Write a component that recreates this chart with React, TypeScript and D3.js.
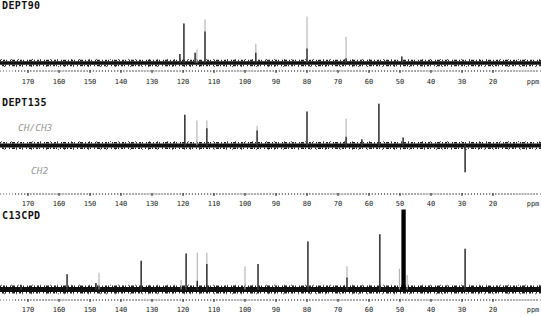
import React from "react";
import * as d3 from "d3";

// ---- data (ppm, intensity, solid core intensity) ----
const tickValues = [170, 160, 150, 140, 130, 120, 110, 100, 90, 80, 70, 60, 50, 40, 30, 20];

const dept90Ppm = [121.0, 119.7, 116.1, 115.5, 112.9, 96.5, 80.0, 67.4, 49.4];
const dept90Int = [19, 84, 22, 29, 93, 41, 99, 56, 14];
const dept90Core = [19, 84, 22, 0, 67, 22, 31, 10, 14];

const dept135Ppm = [119.4, 115.5, 112.3, 96.1, 80.0, 67.4, 62.3, 56.8, 49.0, 29.0];
const dept135Int = [70, 57, 57, 45, 77, 61, 14, 95, 18, -61];
const dept135Core = [70, 0, 39, 34, 77, 20, 14, 95, 18, -61];

const cpdPpm = [172.3, 157.4, 148.1, 147.1, 133.5, 120.6, 119.0, 115.4, 112.3, 100.0, 95.8, 79.7, 67.1, 56.5, 50.2, 47.7, 29.0];
const cpdInt = [6, 19, 8, 21, 36, 12, 45, 46, 46, 29, 32, 60, 29, 69, 26, 18, 51];
const cpdCore = [6, 19, 8, 0, 36, 0, 45, 11, 32, 0, 32, 60, 15, 69, 0, 0, 51];

const solventPpm = [49.55, 48.15];
const solventInt = 100;

const W = 541;
const H = 316;

const x = d3.scaleLinear().domain([100, 50]).range([245, 400]);

type Panel = {
  title: string;
  titleY: number;
  base: number;
  scalePx: number;
  band: number;
  axisY: number;
  labelY: number;
  ppm: number[];
  inten: number[];
  core: number[];
};

const panels: Panel[] = [
  { title: "DEPT90", titleY: 9, base: 63, scalePx: 47, band: 3.5, axisY: 71, labelY: 83.5, ppm: dept90Ppm, inten: dept90Int, core: dept90Core },
  { title: "DEPT135", titleY: 106, base: 145.5, scalePx: 44, band: 4, axisY: 194, labelY: 206, ppm: dept135Ppm, inten: dept135Int, core: dept135Core },
  { title: "C13CPD", titleY: 219, base: 289.5, scalePx: 80, band: 5, axisY: 300, labelY: 311.5, ppm: cpdPpm, inten: cpdInt, core: cpdCore },
];

const mono = "'DejaVu Sans Mono', 'Liberation Mono', monospace";

function Baseline({ y, t }: { y: number; t: number }) {
  return (
    <g>
      <line x1={0} x2={W} y1={y} y2={y} stroke="#111" strokeWidth={t} />
      <line x1={0} x2={W} y1={y - t / 2 - 0.7} y2={y - t / 2 - 0.7} stroke="#222" strokeWidth={1.4} strokeDasharray="1 2 2 1 1 3 1 1 3 2" />
      <line x1={2} x2={W} y1={y + t / 2 + 0.7} y2={y + t / 2 + 0.7} stroke="#222" strokeWidth={1.4} strokeDasharray="2 1 1 3 1 2 3 1 1 2" />
      <line x1={1} x2={W} y1={y - t / 2 - 1.8} y2={y - t / 2 - 1.8} stroke="#555" strokeWidth={1} strokeDasharray="1 9 1 6 1 13 1 7" />
      <line x1={4} x2={W} y1={y + t / 2 + 1.8} y2={y + t / 2 + 1.8} stroke="#555" strokeWidth={1} strokeDasharray="1 11 1 5 1 8 1 14" />
    </g>
  );
}

function Axis({ y, labelY, lastLabel }: { y: number; labelY: number; lastLabel: string }) {
  const minors = d3.range(174, 5, -1);
  return (
    <g>
      <line x1={0} x2={W} y1={y} y2={y} stroke="#666" strokeWidth={1} strokeDasharray="1 2" />
      {minors.map((v) => (
        <line key={v} x1={x(v)} x2={x(v)} y1={y - 0.5} y2={y + 0.5} stroke="#444" strokeWidth={1} />
      ))}
      {tickValues.map((v) => (
        <line key={"t" + v} x1={x(v)} x2={x(v)} y1={y - 1} y2={y + 2} stroke="#222" strokeWidth={1} />
      ))}
      {tickValues.map((v) => (
        <text key={"l" + v} x={x(v)} y={labelY} textAnchor="middle" fontFamily={mono} fontSize={7} fill="#222">
          {v}
        </text>
      ))}
      <text x={533} y={labelY} textAnchor="middle" fontFamily={mono} fontSize={7} fill="#222">
        {lastLabel}
      </text>
    </g>
  );
}

export default function App() {
  return (
    <svg width={W} height={H} style={{ position: "absolute", left: 0, top: 0, background: "#fff" }}>
      <rect x={0} y={0} width={W} height={H} fill="#fff" />
      {panels.map((p, pi) => {
        const y = d3.scaleLinear().domain([0, 100]).range([p.base, p.base - p.scalePx]);
        return (
          <g key={pi}>
            <text x={2} y={p.titleY} fontFamily={mono} fontSize={10} fontWeight="bold" fill="#111" letterSpacing={0.4}>
              {p.title}
            </text>
            <Baseline y={p.base} t={p.band} />
            {p.ppm.map((v, i) => (
              <g key={i}>
                <line x1={x(v)} x2={x(v)} y1={p.base} y2={y(p.inten[i])} stroke="#aaa" strokeWidth={1} />
                {p.core[i] !== 0 && (
                  <line x1={x(v)} x2={x(v)} y1={p.base} y2={y(p.core[i])} stroke="#111" strokeWidth={1.2} />
                )}
              </g>
            ))}
            {pi === 2 && (
              <rect
                x={x(solventPpm[0])}
                width={x(solventPpm[1]) - x(solventPpm[0])}
                y={y(solventInt)}
                height={p.base - y(solventInt)}
                fill="#000"
              />
            )}
            <Axis y={p.axisY} labelY={p.labelY} lastLabel="ppm" />
          </g>
        );
      })}
      <text x={18} y={131} fontFamily={mono} fontSize={9.5} fill="#999" fontStyle="italic">
        CH/CH3
      </text>
      <text x={31} y={174} fontFamily={mono} fontSize={9.5} fill="#999" fontStyle="italic">
        CH2
      </text>
    </svg>
  );
}
